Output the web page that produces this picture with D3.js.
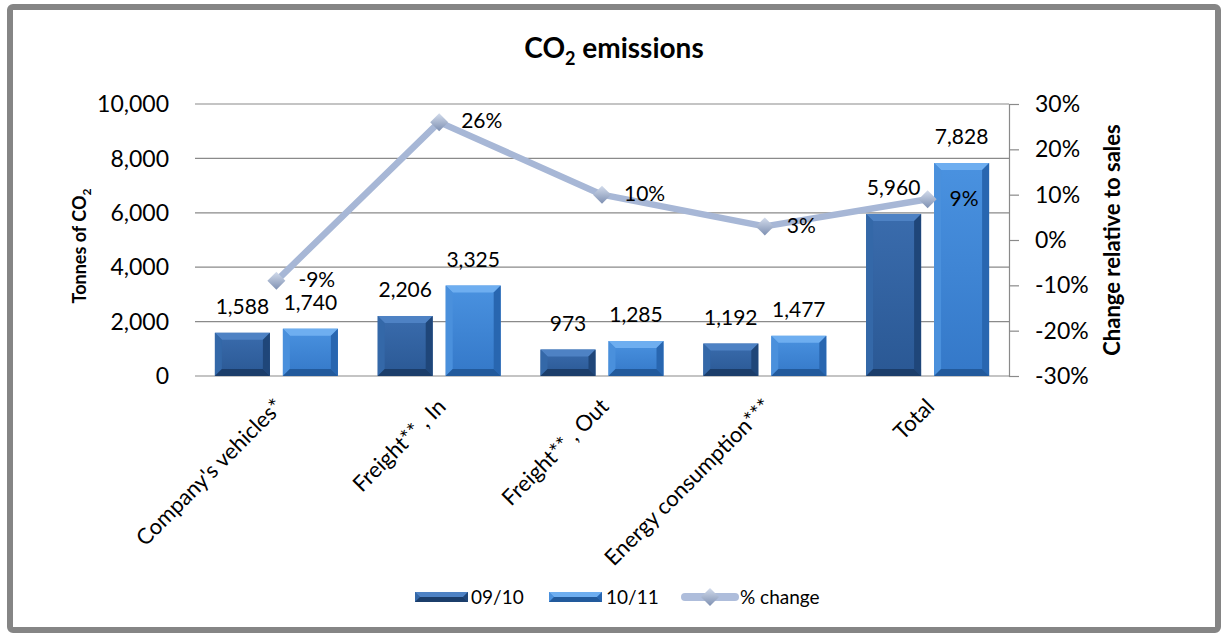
<!DOCTYPE html>
<html><head><meta charset="utf-8">
<script src="https://cdn.jsdelivr.net/npm/d3@7"></script>
<style>
body{margin:0;background:#fff}
svg{display:block}
text{font-family:Lato,"Open Sans",sans-serif;fill:#000}
</style>
</head><body>
<svg id="c" width="1221" height="633"></svg>
<script>
// ---- data ----
const categories = ["Company's vehicles*", "Freight** , In", "Freight** , Out", "Energy consumption***", "Total"];
const seriesNames = ["09/10", "10/11"];
const values0910 = [1588, 2206, 973, 1192, 5960];
const values1011 = [1740, 3325, 1285, 1477, 7828];
const pctChange = [-0.09, 0.26, 0.10, 0.03, 0.09];
const pctLabels = ["-9%", "26%", "10%", "3%", "9%"];
const leftTicks = [0, 2000, 4000, 6000, 8000, 10000];
const rightTicks = [-0.3, -0.2, -0.1, 0, 0.1, 0.2, 0.3];
const lineName = "% change";

// ---- layout ----
const svg = d3.select("#c");
const plot = {left: 195, right: 1009, top: 104, bottom: 376};

// frame
svg.append("rect").attr("x", 10).attr("y", 7).attr("width", 1208).attr("height", 623)
  .attr("rx", 3).attr("fill", "#fff").attr("stroke", "#858585").attr("stroke-width", 6);

const x0 = d3.scaleBand().domain(categories).range([plot.left, plot.right])
  .paddingInner(0.2445).paddingOuter(0.12225);
const x1 = d3.scaleBand().domain(seriesNames).range([0, x0.bandwidth()]).paddingInner(0.191);
const yL = d3.scaleLinear().domain([0, 10000]).range([plot.bottom, plot.top]);
const yR = d3.scaleLinear().domain([-0.3, 0.3]).range([plot.bottom, plot.top]);
const cx = c => x0(c) + x0.bandwidth() / 2;

// gridlines
svg.append("g").selectAll("line").data(leftTicks).join("line")
  .attr("x1", plot.left).attr("x2", plot.right)
  .attr("y1", d => yL(d)).attr("y2", d => yL(d))
  .attr("stroke", "#8a8a8a").attr("stroke-width", 1.2);

// left axis labels
const fmt = d3.format(",");
svg.append("g").selectAll("text").data(leftTicks).join("text")
  .attr("x", 169).attr("y", d => yL(d)).attr("dy", "0.36em")
  .attr("text-anchor", "end").style("font-size", "23px").text(d => fmt(d));

// right axis
const rAxis = svg.append("g").attr("transform", `translate(${plot.right},0)`)
  .call(d3.axisRight(yR).tickValues(rightTicks).tickSize(10).tickPadding(16)
    .tickFormat(d => Math.round(d * 100) + "%"));
rAxis.select(".domain").attr("stroke", "#8a8a8a").attr("stroke-width", 1.2);
rAxis.selectAll(".tick line").attr("stroke", "#8a8a8a").attr("stroke-width", 1.2);
rAxis.selectAll(".tick text").style("font-size", "23px").style("font-family", "Lato").attr("fill", "#000");

// axis titles
svg.append("text").attr("transform", `translate(86,246) rotate(-90)`)
  .attr("text-anchor", "middle").style("font-size", "18px").style("font-weight", "bold")
  .html('Tonnes of CO<tspan dy="5" font-size="12px">2</tspan>');
svg.append("text").attr("transform", `translate(1120,240) rotate(-90)`)
  .attr("text-anchor", "middle").style("font-size", "22px").style("font-weight", "bold")
  .text("Change relative to sales");

// title
svg.append("text").attr("x", 614).attr("y", 58).attr("text-anchor", "middle")
  .style("font-size", "28px").style("font-weight", "bold")
  .html('CO<tspan dy="7" font-size="18px">2</tspan><tspan dy="-7"> emissions</tspan>');

// bar palettes
const pal = {
  "09/10": {face: ["#3a6cad", "#2a5894"], top: "#4e82c4", left: "#3468a8", right: "#1f4679", bottom: "#1b3d6a"},
  "10/11": {face: ["#4a92e0", "#3478c8"], top: "#6eaef0", left: "#4a90dc", right: "#2866b0", bottom: "#225a9c"}
};
const defs = svg.append("defs");
seriesNames.forEach((s, i) => {
  const g = defs.append("linearGradient").attr("id", "g" + i).attr("x1", 0).attr("y1", 0).attr("x2", 0).attr("y2", 1);
  g.append("stop").attr("offset", "0%").attr("stop-color", pal[s].face[0]);
  g.append("stop").attr("offset", "100%").attr("stop-color", pal[s].face[1]);
});
const dg = defs.append("linearGradient").attr("id", "dia").attr("x1", 0).attr("y1", 0).attr("x2", 0).attr("y2", 1);
dg.append("stop").attr("offset", "0%").attr("stop-color", "#d3dcec");
dg.append("stop").attr("offset", "100%").attr("stop-color", "#7e90b2");

function bevelBar(g, x, y, w, h, s, i) {
  const p = pal[s], b = Math.min(7, h / 2, w / 2);
  g.append("rect").attr("x", x).attr("y", y).attr("width", w).attr("height", h).attr("fill", `url(#g${i})`);
  const poly = (pts, fill) => g.append("polygon").attr("points", pts.map(q => q.join(",")).join(" ")).attr("fill", fill);
  poly([[x, y], [x + w, y], [x + w - b, y + b], [x + b, y + b]], p.top);
  poly([[x, y], [x + b, y + b], [x + b, y + h - b], [x, y + h]], p.left);
  poly([[x + w, y], [x + w, y + h], [x + w - b, y + h - b], [x + w - b, y + b]], p.right);
  poly([[x, y + h], [x + b, y + h - b], [x + w - b, y + h - b], [x + w, y + h]], p.bottom);
}

const seriesVals = [values0910, values1011];
const barsG = svg.append("g");
const labelsG = svg.append("g");
seriesNames.forEach((s, i) => {
  categories.forEach((c, j) => {
    const v = seriesVals[i][j];
    const x = x0(c) + x1(s), w = x1.bandwidth();
    bevelBar(barsG.append("g"), x, yL(v), w, yL(0) - yL(v), s, i);
    labelsG.append("text").attr("x", x + w / 2).attr("y", yL(v) - 19)
      .attr("text-anchor", "middle").style("font-size", "21px").text(fmt(v));
  });
});

// line
const lineData = categories.map((c, j) => ({x: cx(c), y: yR(pctChange[j]), l: pctLabels[j]}));
svg.append("path").datum(lineData)
  .attr("d", d3.line().x(d => d.x).y(d => d.y))
  .attr("fill", "none").attr("stroke", "#a7b7d6").attr("stroke-width", 6.5).attr("stroke-linejoin", "round");
const diamond = (x, y, r) => `M${x},${y - r}L${x + r},${y}L${x},${y + r}L${x - r},${y}Z`;
svg.append("g").selectAll("path").data(lineData).join("path")
  .attr("d", d => diamond(d.x, d.y, 9)).attr("fill", "url(#dia)");
svg.append("g").selectAll("text").data(lineData).join("text")
  .attr("x", d => d.x + 22).attr("y", d => d.y).attr("dy", "0.3em")
  .style("font-size", "21px").text(d => d.l);

// x labels
svg.append("g").selectAll("text").data(categories).join("text")
  .attr("transform", c => `translate(${cx(c) + 8},408) rotate(-45)`)
  .attr("text-anchor", "end").style("font-size", "22px").text(c => c);

// legend
const lg = svg.append("g");
const legendItems = [
  {type: "bar", s: "09/10", i: 0, x: 415, tx: 471},
  {type: "bar", s: "10/11", i: 1, x: 549, tx: 606},
  {type: "line", s: lineName, x: 681, tx: 740}
];
legendItems.forEach(it => {
  if (it.type === "bar") {
    bevelBar(lg.append("g"), it.x, 592, 53, 10, it.s, it.i);
  } else {
    lg.append("line").attr("x1", it.x + 4).attr("x2", it.x + 54).attr("y1", 597).attr("y2", 597)
      .attr("stroke", "#aebddb").attr("stroke-width", 8).attr("stroke-linecap", "round");
    lg.append("path").attr("d", diamond(it.x + 29, 597, 9)).attr("fill", "url(#dia)");
  }
  lg.append("text").attr("x", it.tx).attr("y", 597).attr("dy", "0.36em")
    .style("font-size", "19px").text(it.s);
});
</script>
</body></html>
